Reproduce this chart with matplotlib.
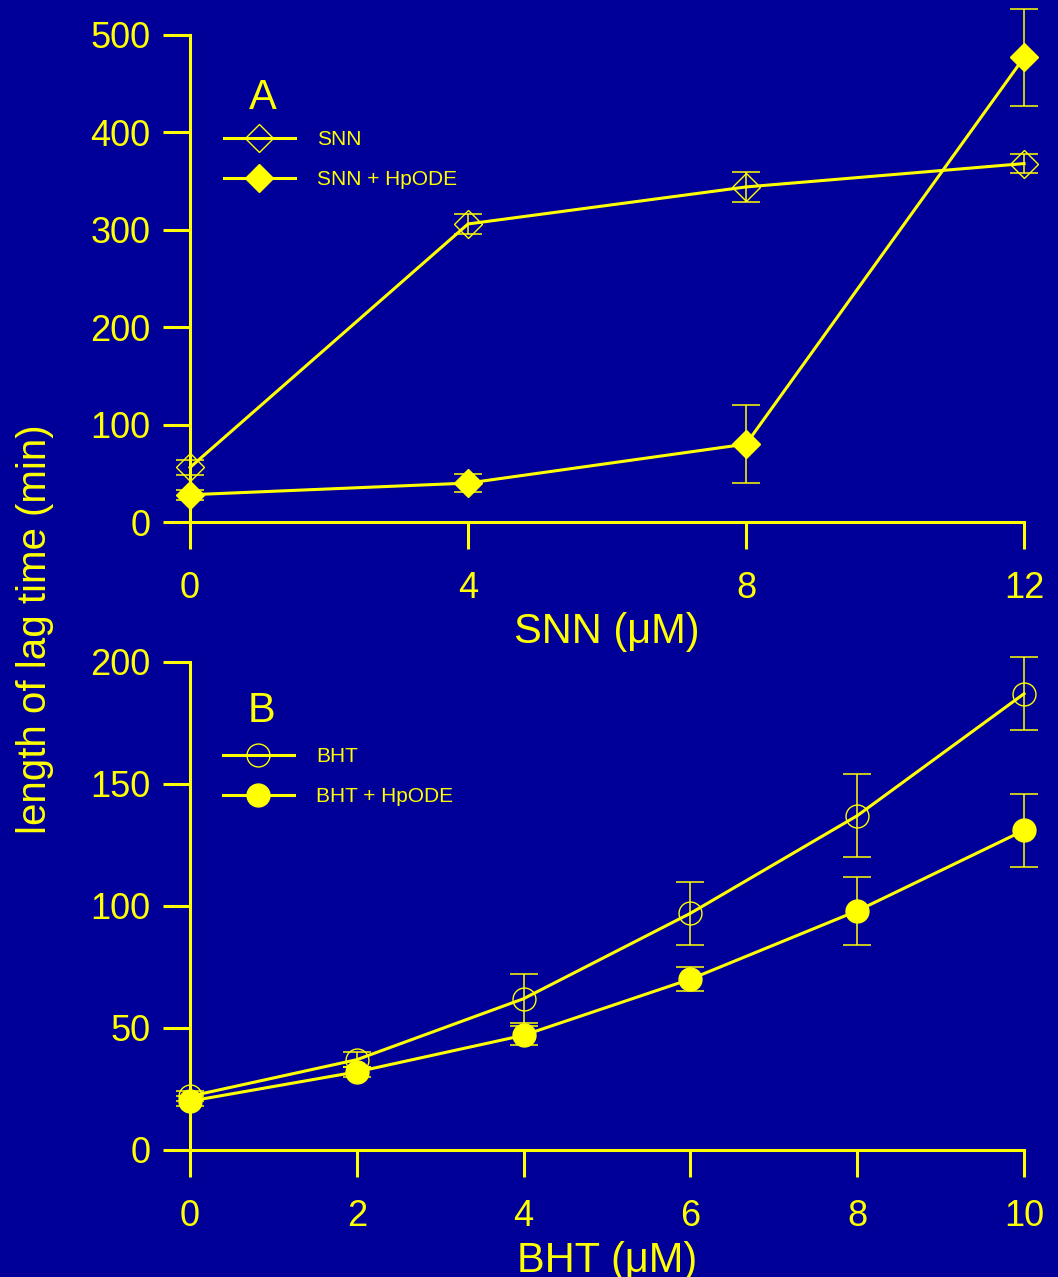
import numpy as np
import matplotlib
matplotlib.use("Agg")
import matplotlib.pyplot as plt

plt.rcParams['font.family'] = ['Liberation Sans', 'DejaVu Sans']

BG = "#000099"
FG = "#ffff00"

# panel A: SNN
snn_x = [0, 4, 8, 12]
snn = [56, 306, 344, 368]
snn_err = [8, 10, 15, 10]
snn_hp = [28, 40, 80, 477]
snn_hp_err = [5, 9, 40, 50]

# panel B: BHT
bht_x = [0, 2, 4, 6, 8, 10]
bht = [22, 37, 62, 97, 137, 187]
bht_err = [2, 3, 10, 13, 17, 15]
bht_hp = [20, 32, 47, 70, 98, 131]
bht_hp_err = [2, 2, 4, 5, 14, 15]

fig = plt.figure(figsize=(10.58, 12.77), dpi=100, facecolor=BG)
axA = fig.add_axes([0.1796, 0.5912, 0.7883, 0.3814], facecolor=BG)
axB = fig.add_axes([0.1796, 0.0995, 0.7883, 0.3821], facecolor=BG)


def series(ax, x, y, err, marker, ms, filled, label):
    ax.errorbar(x, y, yerr=err, fmt='none', ecolor=FG, elinewidth=1.1,
                capsize=10, capthick=1.1, clip_on=False, zorder=2)
    ax.plot(x, y, color=FG, linewidth=2.2, marker=marker, markersize=ms,
            markerfacecolor=FG if filled else 'none', markeredgecolor=FG,
            markeredgewidth=1.0, label=label, clip_on=False, zorder=3)


def style(ax, xmax, ymax, xt, yt):
    ax.set_xlim(0, xmax)
    ax.set_ylim(0, ymax)
    ax.set_xticks(xt)
    ax.set_yticks(yt)
    for s in ['top', 'right']:
        ax.spines[s].set_visible(False)
    for s in ['left', 'bottom']:
        ax.spines[s].set_color(FG)
        ax.spines[s].set_linewidth(2.2)
    ax.tick_params(axis='both', colors=FG, direction='out', length=19.5,
                   width=2.2, labelsize=26)
    ax.tick_params(axis='x', pad=16)
    ax.tick_params(axis='y', pad=9)


series(axA, snn_x, snn, snn_err, 'D', 14, False, 'SNN')
series(axA, snn_x, snn_hp, snn_hp_err, 'D', 14, True, 'SNN + HpODE')
style(axA, 12, 500, [0, 4, 8, 12], [0, 100, 200, 300, 400, 500])
axA.set_xlabel("SNN (\u03bcM)", fontsize=30, color=FG, labelpad=4)
axA.text(0.0875, 0.848, "A", transform=axA.transAxes, ha='center',
         va='baseline', fontsize=30, color=FG)

series(axB, bht_x, bht, bht_err, 'o', 16.5, False, 'BHT')
series(axB, bht_x, bht_hp, bht_hp_err, 'o', 16.5, True, 'BHT + HpODE')
style(axB, 10, 200, [0, 2, 4, 6, 8, 10], [0, 50, 100, 150, 200])
axB.set_xlabel("BHT (\u03bcM)", fontsize=30, color=FG, labelpad=5)
axB.text(0.0863, 0.878, "B", transform=axB.transAxes, ha='center',
         va='baseline', fontsize=30, color=FG)

for ax, anchor in [(axA, (0.0408, 0.805)), (axB, (0.0396, 0.825))]:
    leg = ax.legend(loc='upper left', bbox_to_anchor=anchor, frameon=False,
                    fontsize=15, numpoints=1, handlelength=3.4,
                    handletextpad=1.05, labelspacing=1.0, borderpad=0,
                    borderaxespad=0)
    for t in leg.get_texts():
        t.set_color(FG)

fig.text(0.033, 0.5075, "length of lag time (min)", rotation=90, ha='center',
         va='center', fontsize=29, color=FG)

fig.savefig("out.png", dpi=100, facecolor=BG)
